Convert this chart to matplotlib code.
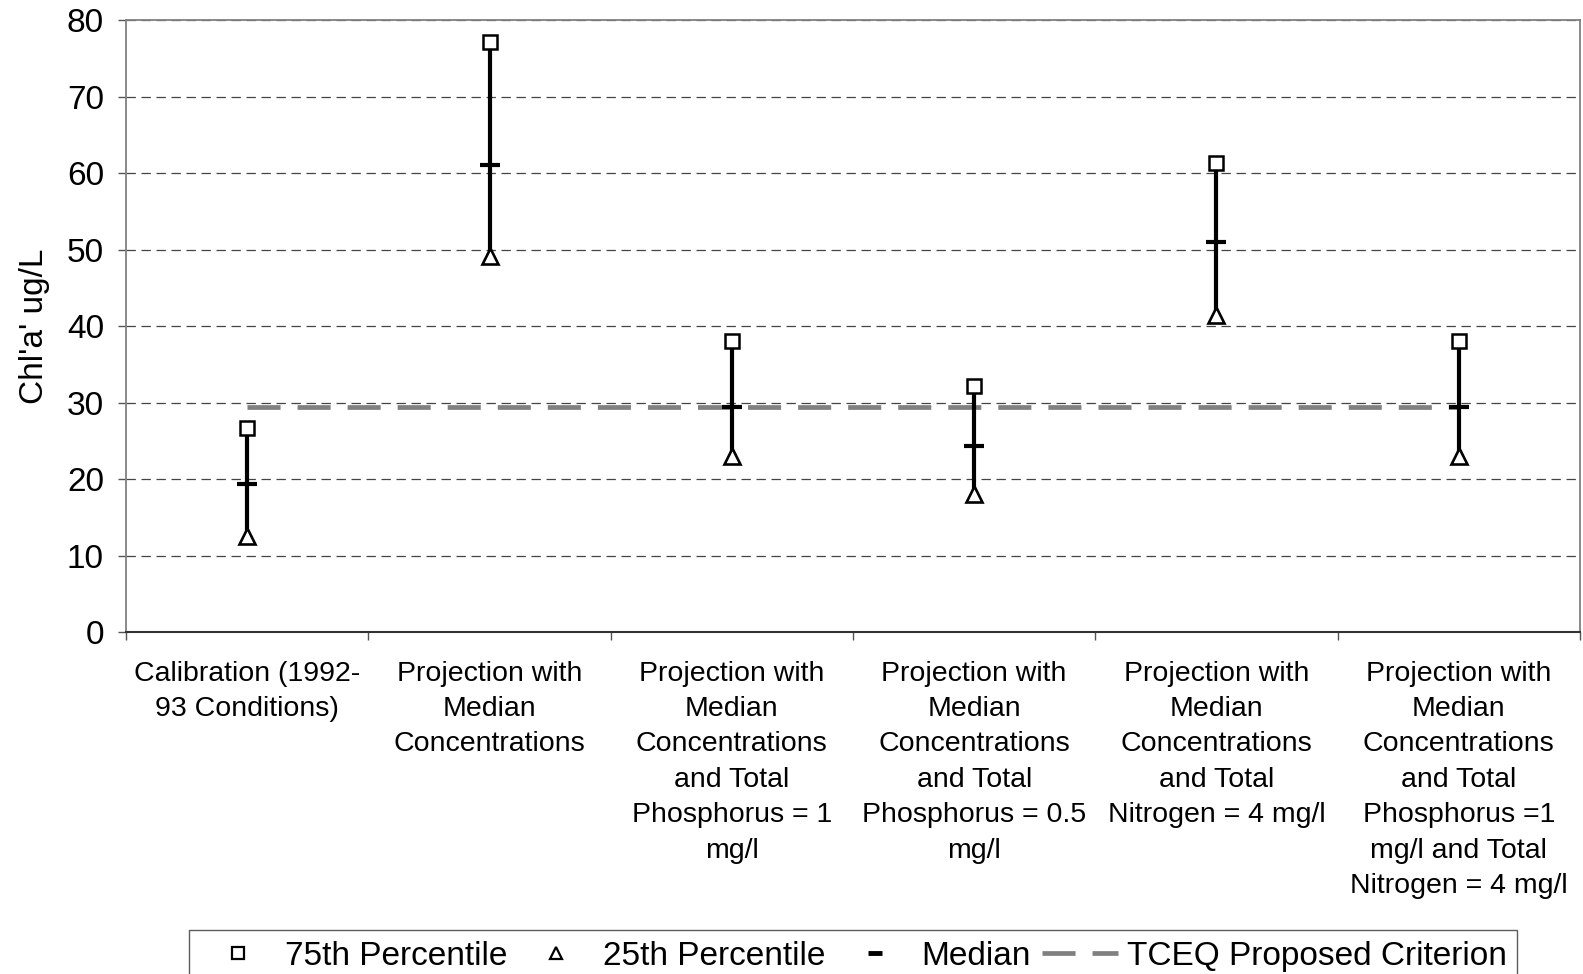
import matplotlib.pyplot as plt
from matplotlib.lines import Line2D

plt.rcParams['font.family'] = ['Liberation Sans', 'DejaVu Sans']

# scenario labels and Chl'a' statistics (ug/L)
scenarios = [
    'Calibration (1992-\n93 Conditions)',
    'Projection with\nMedian\nConcentrations',
    'Projection with\nMedian\nConcentrations\nand Total\nPhosphorus = 1\nmg/l',
    'Projection with\nMedian\nConcentrations\nand Total\nPhosphorus = 0.5\nmg/l',
    'Projection with\nMedian\nConcentrations\nand Total\nNitrogen = 4 mg/l',
    'Projection with\nMedian\nConcentrations\nand Total\nPhosphorus =1\nmg/l and Total\nNitrogen = 4 mg/l',
]
p75 = [26.7, 77.1, 38.0, 32.2, 61.3, 38.0]
median = [19.4, 61.1, 29.4, 24.3, 51.0, 29.4]
p25 = [12.6, 49.2, 23.0, 18.0, 41.5, 23.0]
criterion = 29.4

x = list(range(len(scenarios)))
crit_style = dict(color='#808080', lw=3.4, dashes=(7.0, 3.6))

fig = plt.figure(figsize=(15.83, 9.74), dpi=100)
ax = fig.add_axes([0.0797, 0.3511, 0.9183, 0.6282])

# criterion line
ax.plot([x[0], x[-1]], [criterion, criterion], zorder=2, **crit_style)

# percentile ranges
ax.vlines(x, p25, p75, color='black', lw=3.0, zorder=3)
ax.plot(x, median, ls='none', marker='_', ms=14, mew=3.0, color='black', zorder=4)
ax.plot(x, p75, ls='none', marker='s', ms=10.5, mfc='white', mec='black', mew=1.8, zorder=5)
ax.plot(x, p25, ls='none', marker='^', ms=12, mfc='white', mec='black', mew=1.9, zorder=5)

ax.set_xlim(-0.5, len(scenarios) - 0.5)
ax.set_ylim(0, 80)
ax.set_yticks(range(0, 81, 10))
ax.tick_params(axis='y', labelsize=24, length=6, width=1, color='#555555', pad=10)
ax.set_xticks([i - 0.5 for i in range(len(scenarios) + 1)])
ax.set_xticklabels([])
ax.tick_params(axis='x', length=6, width=1, color='#555555')
for i, lab in enumerate(scenarios):
    ax.annotate(lab, (i, 0), xytext=(0, -20.5), textcoords='offset points',
                ha='center', va='top', fontsize=20.5, linespacing=1.47)

ax.yaxis.grid(True, ls=(0, (7.5, 4.5)), color='#444444', lw=0.9)
for s in ax.spines.values():
    s.set_color('#808080')
    s.set_linewidth(1.3)
ax.spines['bottom'].set_color('#333333')
ax.spines['bottom'].set_linewidth(1.5)

ax.set_ylabel("Chl'a' ug/L", fontsize=24, labelpad=12)

handles = [
    Line2D([], [], ls='none', marker='s', ms=9, mfc='white', mec='black', mew=1.6),
    Line2D([], [], ls='none', marker='^', ms=9, mfc='white', mec='black', mew=1.6),
    Line2D([], [], ls='none', marker='_', ms=10, mew=3.5, color='black'),
    Line2D([], [], **crit_style),
]
labels = ['75th Percentile', '25th Percentile', 'Median', 'TCEQ Proposed Criterion']
leg = fig.legend(handles, labels, loc='upper left', bbox_to_anchor=(0.1194, 0.0452),
                 ncol=4, fontsize=24, frameon=True, fancybox=False, edgecolor='#333333',
                 borderpad=0.32, borderaxespad=0, handlelength=2.3, handletextpad=0.25,
                 columnspacing=0.33)
leg.get_frame().set_linewidth(1.0)

fig.savefig('out.png', dpi=100)
